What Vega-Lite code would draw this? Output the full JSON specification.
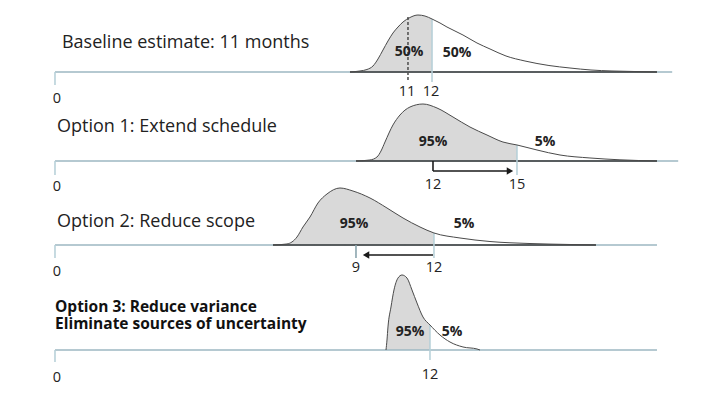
{
  "$schema": "https://vega.github.io/schema/vega-lite/v6.json",
  "padding": 0,
  "spacing": 0,
  "bounds": "flush",
  "background": "white",
  "config": {"view": {"stroke": null}, "concat": {"spacing": 0}},
  "datasets": {
    "curve": [
      {"p":1,"pos":9.389,"dens":0,"sh":1},{"p":1,"pos":9.707,"dens":0.018,"sh":1},{"p":1,"pos":9.930,"dens":0.044,"sh":1},{"p":1,"pos":10.121,"dens":0.105,"sh":1},{"p":1,"pos":10.280,"dens":0.228,"sh":1},{"p":1,"pos":10.439,"dens":0.386,"sh":1},{"p":1,"pos":10.598,"dens":0.544,"sh":1},{"p":1,"pos":10.757,"dens":0.684,"sh":1},{"p":1,"pos":10.917,"dens":0.789,"sh":1},{"p":1,"pos":11.076,"dens":0.877,"sh":1},{"p":1,"pos":11.298,"dens":0.956,"sh":1},{"p":1,"pos":11.553,"dens":1.0,"sh":1},{"p":1,"pos":11.776,"dens":0.982,"sh":1},{"p":1,"pos":12.0,"dens":0.930,"sh":1},{"p":1,"pos":12.253,"dens":0.860,"sh":0},{"p":1,"pos":12.476,"dens":0.789,"sh":0},{"p":1,"pos":12.731,"dens":0.719,"sh":0},{"p":1,"pos":12.985,"dens":0.649,"sh":0},{"p":1,"pos":13.431,"dens":0.509,"sh":0},{"p":1,"pos":13.845,"dens":0.404,"sh":0},{"p":1,"pos":14.354,"dens":0.281,"sh":0},{"p":1,"pos":14.959,"dens":0.193,"sh":0},{"p":1,"pos":15.722,"dens":0.114,"sh":0},{"p":1,"pos":16.391,"dens":0.070,"sh":0},{"p":1,"pos":17.059,"dens":0.035,"sh":0},{"p":1,"pos":17.728,"dens":0.018,"sh":0},{"p":1,"pos":18.428,"dens":0.009,"sh":0},{"p":1,"pos":19.160,"dens":0,"sh":0},
      {"p":2,"pos":9.580,"dens":0,"sh":1},{"p":2,"pos":10.025,"dens":0.018,"sh":1},{"p":2,"pos":10.248,"dens":0.070,"sh":1},{"p":2,"pos":10.376,"dens":0.175,"sh":1},{"p":2,"pos":10.503,"dens":0.333,"sh":1},{"p":2,"pos":10.757,"dens":0.632,"sh":1},{"p":2,"pos":10.980,"dens":0.807,"sh":1},{"p":2,"pos":11.298,"dens":0.947,"sh":1},{"p":2,"pos":11.712,"dens":1.0,"sh":1},{"p":2,"pos":12.158,"dens":0.930,"sh":1},{"p":2,"pos":12.667,"dens":0.772,"sh":1},{"p":2,"pos":13.208,"dens":0.596,"sh":1},{"p":2,"pos":13.749,"dens":0.456,"sh":1},{"p":2,"pos":14.258,"dens":0.333,"sh":1},{"p":2,"pos":14.704,"dens":0.281,"sh":1},{"p":2,"pos":15.341,"dens":0.193,"sh":0},{"p":2,"pos":16.073,"dens":0.105,"sh":0},{"p":2,"pos":17.027,"dens":0.053,"sh":0},{"p":2,"pos":17.982,"dens":0.021,"sh":0},{"p":2,"pos":19.160,"dens":0,"sh":0},
      {"p":3,"pos":6.938,"dens":0,"sh":1},{"p":3,"pos":7.384,"dens":0.018,"sh":1},{"p":3,"pos":7.702,"dens":0.140,"sh":1},{"p":3,"pos":7.893,"dens":0.316,"sh":1},{"p":3,"pos":8.116,"dens":0.491,"sh":1},{"p":3,"pos":8.370,"dens":0.737,"sh":1},{"p":3,"pos":8.657,"dens":0.895,"sh":1},{"p":3,"pos":9.071,"dens":1.0,"sh":1},{"p":3,"pos":9.484,"dens":0.947,"sh":1},{"p":3,"pos":10.025,"dens":0.825,"sh":1},{"p":3,"pos":10.567,"dens":0.649,"sh":1},{"p":3,"pos":11.076,"dens":0.474,"sh":1},{"p":3,"pos":11.617,"dens":0.316,"sh":1},{"p":3,"pos":12.062,"dens":0.211,"sh":1},{"p":3,"pos":12.890,"dens":0.123,"sh":0},{"p":3,"pos":13.845,"dens":0.061,"sh":0},{"p":3,"pos":15.118,"dens":0.026,"sh":0},{"p":3,"pos":16.391,"dens":0.009,"sh":0},{"p":3,"pos":17.218,"dens":0,"sh":0},
      {"p":4,"pos":10.535,"dens":0,"sh":1},{"p":4,"pos":10.567,"dens":0.175,"sh":1},{"p":4,"pos":10.598,"dens":0.404,"sh":1},{"p":4,"pos":10.694,"dens":0.754,"sh":1},{"p":4,"pos":10.789,"dens":1.053,"sh":1},{"p":4,"pos":10.917,"dens":1.263,"sh":1},{"p":4,"pos":11.044,"dens":1.316,"sh":1},{"p":4,"pos":11.203,"dens":1.263,"sh":1},{"p":4,"pos":11.362,"dens":1.053,"sh":1},{"p":4,"pos":11.521,"dens":0.825,"sh":1},{"p":4,"pos":11.712,"dens":0.579,"sh":1},{"p":4,"pos":11.935,"dens":0.439,"sh":1},{"p":4,"pos":12.253,"dens":0.263,"sh":0},{"p":4,"pos":12.572,"dens":0.140,"sh":0},{"p":4,"pos":12.985,"dens":0.053,"sh":0},{"p":4,"pos":13.431,"dens":0.018,"sh":0},{"p":4,"pos":13.527,"dens":0,"sh":0}
    ],
    "segs": [
      {"p":1,"pos":0,"dens":0,"pos2":19.644,"dens2":0,"k":"axis"},
      {"p":1,"pos":9.389,"dens":0,"pos2":19.160,"dens2":0,"k":"base"},
      {"p":1,"pos":0,"dens":0,"pos2":0,"dens2":-0.228,"k":"tick"},
      {"p":1,"pos":11.235,"dens":0.965,"pos2":11.235,"dens2":-0.175,"k":"dash"},
      {"p":1,"pos":12.0,"dens":0.930,"pos2":12.0,"dens2":-0.175,"k":"tick"},
      {"p":2,"pos":0,"dens":0,"pos2":19.835,"dens2":0,"k":"axis"},
      {"p":2,"pos":9.580,"dens":0,"pos2":19.160,"dens2":0,"k":"base"},
      {"p":2,"pos":0,"dens":0,"pos2":0,"dens2":-0.246,"k":"tick"},
      {"p":2,"pos":12.031,"dens":-0.175,"pos2":14.45,"dens2":-0.175,"k":"arrow"},
      {"p":2,"pos":12.031,"dens":0,"pos2":12.031,"dens2":-0.175,"k":"arrow"},
      {"p":2,"pos":14.704,"dens":0.281,"pos2":14.704,"dens2":-0.246,"k":"tick"},
      {"p":3,"pos":0,"dens":0,"pos2":19.16,"dens2":0,"k":"axis"},
      {"p":3,"pos":6.938,"dens":0,"pos2":17.218,"dens2":0,"k":"base"},
      {"p":3,"pos":0,"dens":0,"pos2":0,"dens2":-0.228,"k":"tick"},
      {"p":3,"pos":12.031,"dens":-0.175,"pos2":9.95,"dens2":-0.175,"k":"arrow"},
      {"p":3,"pos":9.580,"dens":0,"pos2":9.580,"dens2":-0.228,"k":"grey"},
      {"p":3,"pos":12.062,"dens":0.211,"pos2":12.062,"dens2":-0.228,"k":"tick"},
      {"p":4,"pos":0,"dens":0,"pos2":19.16,"dens2":0,"k":"axis"},
      {"p":4,"pos":0,"dens":0,"pos2":0,"dens2":-0.211,"k":"tick"},
      {"p":4,"pos":11.935,"dens":0.439,"pos2":11.935,"dens2":-0.175,"k":"tick"}
    ],
    "heads": [
      {"p":2,"pos":14.48,"dens":-0.175,"dir":"right"},
      {"p":3,"pos":9.90,"dens":-0.175,"dir":"left"}
    ],
    "labels": [
      {"p":1,"pos":0.223,"dens":0.51,"t":"Baseline estimate: 11 months","k":"title"},
      {"p":2,"pos":0.064,"dens":0.596,"t":"Option 1: Extend schedule","k":"title"},
      {"p":3,"pos":0.064,"dens":0.404,"t":"Option 2: Reduce scope","k":"title"},
      {"p":4,"pos":0.0,"dens":0.754,"t":"Option 3: Reduce variance\nEliminate sources of uncertainty","k":"btitle"},
      {"p":1,"pos":0.064,"dens":-0.474,"t":"0","k":"num"},
      {"p":1,"pos":11.203,"dens":-0.351,"t":"11","k":"num"},
      {"p":1,"pos":11.967,"dens":-0.351,"t":"12","k":"num"},
      {"p":2,"pos":0.064,"dens":-0.456,"t":"0","k":"num"},
      {"p":2,"pos":12.031,"dens":-0.421,"t":"12","k":"num"},
      {"p":2,"pos":14.704,"dens":-0.421,"t":"15","k":"num"},
      {"p":3,"pos":0.064,"dens":-0.474,"t":"0","k":"num"},
      {"p":3,"pos":9.580,"dens":-0.404,"t":"9","k":"num"},
      {"p":3,"pos":12.062,"dens":-0.404,"t":"12","k":"num"},
      {"p":4,"pos":0.064,"dens":-0.491,"t":"0","k":"num"},
      {"p":4,"pos":11.935,"dens":-0.439,"t":"12","k":"num"},
      {"p":1,"pos":11.267,"dens":0.351,"t":"50%","k":"pct"},
      {"p":1,"pos":12.794,"dens":0.333,"t":"50%","k":"pct"},
      {"p":2,"pos":12.031,"dens":0.333,"t":"95%","k":"pct"},
      {"p":2,"pos":15.595,"dens":0.333,"t":"5%","k":"pct"},
      {"p":3,"pos":9.516,"dens":0.368,"t":"95%","k":"pct"},
      {"p":3,"pos":13.017,"dens":0.368,"t":"5%","k":"pct"},
      {"p":4,"pos":11.298,"dens":0.316,"t":"95%","k":"pct"},
      {"p":4,"pos":12.635,"dens":0.316,"t":"5%","k":"pct"}
    ]
  },
  "vconcat": [
    {
      "width": 706, "height": 100,
      "encoding": {
        "x": {"field":"pos","type":"quantitative","scale":{"domain":[-1.75,20.72],"nice":false,"zero":false},"axis":null},
        "y": {"field":"dens","type":"quantitative","scale":{"domain":[-0.4912,1.2632],"nice":false,"zero":false},"axis":null}
      },
      "layer": [
        {"data":{"name":"curve"},"transform":[{"filter":"datum.p==1 && datum.sh==1"}],"mark":{"type":"area","color":"#d9d9d9","interpolate":"monotone"},"encoding":{"y2":{"datum":0}}},
        {"data":{"name":"segs"},"transform":[{"filter":"datum.p==1"}],"mark":{"type":"rule"},"encoding":{"x2":{"field":"pos2"},"y2":{"field":"dens2"},
          "color":{"field":"k","type":"nominal","scale":{"domain":["axis","base","tick","arrow","grey","dash"],"range":["#9db8c2","#3a3a3a","#b6d0d8","#1a1a1a","#8aa4ad","#555555"]},"legend":null},
          "strokeWidth":{"field":"k","type":"nominal","scale":{"domain":["axis","base","tick","arrow","grey","dash"],"range":[1.5,1.6,1.2,1.5,1.2,1]},"legend":null},
          "strokeDash":{"field":"k","type":"nominal","scale":{"domain":["axis","base","tick","arrow","grey","dash"],"range":[[1,0],[1,0],[1,0],[1,0],[1,0],[3,2]]},"legend":null}}},
        {"data":{"name":"curve"},"transform":[{"filter":"datum.p==1"}],"mark":{"type":"line","color":"#4a4a4a","strokeWidth":1,"interpolate":"monotone"}},
        {"data":{"name":"labels"},"transform":[{"filter":"datum.p==1 && datum.k=='title'"}],"mark":{"type":"text","align":"left","baseline":"middle","font":"Open Sans","fontSize":18,"color":"#222222"},"encoding":{"text":{"field":"t"}}},
        {"data":{"name":"labels"},"transform":[{"filter":"datum.p==1 && datum.k=='num'"}],"mark":{"type":"text","align":"center","baseline":"middle","font":"Open Sans","fontSize":14.5,"color":"#222222"},"encoding":{"text":{"field":"t"}}},
        {"data":{"name":"labels"},"transform":[{"filter":"datum.p==1 && datum.k=='pct'"}],"mark":{"type":"text","align":"center","baseline":"middle","font":"Open Sans","fontSize":14,"fontWeight":"bold","color":"#222222"},"encoding":{"text":{"field":"t"}}}
      ]
    },
    {
      "width": 706, "height": 85,
      "encoding": {
        "x": {"field":"pos","type":"quantitative","scale":{"domain":[-1.75,20.72],"nice":false,"zero":false},"axis":null},
        "y": {"field":"dens","type":"quantitative","scale":{"domain":[-0.4211,1.0702],"nice":false,"zero":false},"axis":null}
      },
      "layer": [
        {"data":{"name":"curve"},"transform":[{"filter":"datum.p==2 && datum.sh==1"}],"mark":{"type":"area","color":"#d9d9d9","interpolate":"monotone"},"encoding":{"y2":{"datum":0}}},
        {"data":{"name":"segs"},"transform":[{"filter":"datum.p==2"}],"mark":{"type":"rule"},"encoding":{"x2":{"field":"pos2"},"y2":{"field":"dens2"},
          "color":{"field":"k","type":"nominal","scale":{"domain":["axis","base","tick","arrow","grey","dash"],"range":["#9db8c2","#3a3a3a","#b6d0d8","#1a1a1a","#8aa4ad","#555555"]},"legend":null},
          "strokeWidth":{"field":"k","type":"nominal","scale":{"domain":["axis","base","tick","arrow","grey","dash"],"range":[1.5,1.6,1.2,1.5,1.2,1]},"legend":null},
          "strokeDash":{"field":"k","type":"nominal","scale":{"domain":["axis","base","tick","arrow","grey","dash"],"range":[[1,0],[1,0],[1,0],[1,0],[1,0],[3,2]]},"legend":null}}},
        {"data":{"name":"curve"},"transform":[{"filter":"datum.p==2"}],"mark":{"type":"line","color":"#4a4a4a","strokeWidth":1,"interpolate":"monotone"}},
        {"data":{"name":"heads"},"transform":[{"filter":"datum.p==2"}],"mark":{"type":"point","filled":true,"color":"#1a1a1a","size":55,"opacity":1},"encoding":{"shape":{"field":"dir","type":"nominal","scale":{"domain":["right","left"],"range":["triangle-right","triangle-left"]},"legend":null}}},
        {"data":{"name":"labels"},"transform":[{"filter":"datum.p==2 && datum.k=='title'"}],"mark":{"type":"text","align":"left","baseline":"middle","font":"Open Sans","fontSize":18,"color":"#222222"},"encoding":{"text":{"field":"t"}}},
        {"data":{"name":"labels"},"transform":[{"filter":"datum.p==2 && datum.k=='num'"}],"mark":{"type":"text","align":"center","baseline":"middle","font":"Open Sans","fontSize":14.5,"color":"#222222"},"encoding":{"text":{"field":"t"}}},
        {"data":{"name":"labels"},"transform":[{"filter":"datum.p==2 && datum.k=='pct'"}],"mark":{"type":"text","align":"center","baseline":"middle","font":"Open Sans","fontSize":14,"fontWeight":"bold","color":"#222222"},"encoding":{"text":{"field":"t"}}}
      ]
    },
    {
      "width": 706, "height": 85,
      "encoding": {
        "x": {"field":"pos","type":"quantitative","scale":{"domain":[-1.75,20.72],"nice":false,"zero":false},"axis":null},
        "y": {"field":"dens","type":"quantitative","scale":{"domain":[-0.4386,1.0526],"nice":false,"zero":false},"axis":null}
      },
      "layer": [
        {"data":{"name":"curve"},"transform":[{"filter":"datum.p==3 && datum.sh==1"}],"mark":{"type":"area","color":"#d9d9d9","interpolate":"monotone"},"encoding":{"y2":{"datum":0}}},
        {"data":{"name":"segs"},"transform":[{"filter":"datum.p==3"}],"mark":{"type":"rule"},"encoding":{"x2":{"field":"pos2"},"y2":{"field":"dens2"},
          "color":{"field":"k","type":"nominal","scale":{"domain":["axis","base","tick","arrow","grey","dash"],"range":["#9db8c2","#3a3a3a","#b6d0d8","#1a1a1a","#8aa4ad","#555555"]},"legend":null},
          "strokeWidth":{"field":"k","type":"nominal","scale":{"domain":["axis","base","tick","arrow","grey","dash"],"range":[1.5,1.6,1.2,1.5,1.2,1]},"legend":null},
          "strokeDash":{"field":"k","type":"nominal","scale":{"domain":["axis","base","tick","arrow","grey","dash"],"range":[[1,0],[1,0],[1,0],[1,0],[1,0],[3,2]]},"legend":null}}},
        {"data":{"name":"curve"},"transform":[{"filter":"datum.p==3"}],"mark":{"type":"line","color":"#4a4a4a","strokeWidth":1,"interpolate":"monotone"}},
        {"data":{"name":"heads"},"transform":[{"filter":"datum.p==3"}],"mark":{"type":"point","filled":true,"color":"#1a1a1a","size":55,"opacity":1},"encoding":{"shape":{"field":"dir","type":"nominal","scale":{"domain":["right","left"],"range":["triangle-right","triangle-left"]},"legend":null}}},
        {"data":{"name":"labels"},"transform":[{"filter":"datum.p==3 && datum.k=='title'"}],"mark":{"type":"text","align":"left","baseline":"middle","font":"Open Sans","fontSize":18,"color":"#222222"},"encoding":{"text":{"field":"t"}}},
        {"data":{"name":"labels"},"transform":[{"filter":"datum.p==3 && datum.k=='num'"}],"mark":{"type":"text","align":"center","baseline":"middle","font":"Open Sans","fontSize":14.5,"color":"#222222"},"encoding":{"text":{"field":"t"}}},
        {"data":{"name":"labels"},"transform":[{"filter":"datum.p==3 && datum.k=='pct'"}],"mark":{"type":"text","align":"center","baseline":"middle","font":"Open Sans","fontSize":14,"fontWeight":"bold","color":"#222222"},"encoding":{"text":{"field":"t"}}}
      ]
    },
    {
      "width": 706, "height": 128,
      "encoding": {
        "x": {"field":"pos","type":"quantitative","scale":{"domain":[-1.75,20.72],"nice":false,"zero":false},"axis":null},
        "y": {"field":"dens","type":"quantitative","scale":{"domain":[-0.8421,1.4035],"nice":false,"zero":false},"axis":null}
      },
      "layer": [
        {"data":{"name":"curve"},"transform":[{"filter":"datum.p==4 && datum.sh==1"}],"mark":{"type":"area","color":"#d9d9d9","interpolate":"monotone"},"encoding":{"y2":{"datum":0}}},
        {"data":{"name":"segs"},"transform":[{"filter":"datum.p==4"}],"mark":{"type":"rule"},"encoding":{"x2":{"field":"pos2"},"y2":{"field":"dens2"},
          "color":{"field":"k","type":"nominal","scale":{"domain":["axis","base","tick","arrow","grey","dash"],"range":["#9db8c2","#3a3a3a","#b6d0d8","#1a1a1a","#8aa4ad","#555555"]},"legend":null},
          "strokeWidth":{"field":"k","type":"nominal","scale":{"domain":["axis","base","tick","arrow","grey","dash"],"range":[1.5,1.6,1.2,1.5,1.2,1]},"legend":null},
          "strokeDash":{"field":"k","type":"nominal","scale":{"domain":["axis","base","tick","arrow","grey","dash"],"range":[[1,0],[1,0],[1,0],[1,0],[1,0],[3,2]]},"legend":null}}},
        {"data":{"name":"curve"},"transform":[{"filter":"datum.p==4"}],"mark":{"type":"line","color":"#4a4a4a","strokeWidth":1,"interpolate":"monotone"}},
        {"data":{"name":"labels"},"transform":[{"filter":"datum.p==4 && datum.k=='btitle'"}],"mark":{"type":"text","align":"left","baseline":"middle","font":"Open Sans","fontSize":15.5,"fontWeight":"bold","color":"#111111","lineBreak":"\n","lineHeight":17},"encoding":{"text":{"field":"t"}}},
        {"data":{"name":"labels"},"transform":[{"filter":"datum.p==4 && datum.k=='num'"}],"mark":{"type":"text","align":"center","baseline":"middle","font":"Open Sans","fontSize":14.5,"color":"#222222"},"encoding":{"text":{"field":"t"}}},
        {"data":{"name":"labels"},"transform":[{"filter":"datum.p==4 && datum.k=='pct'"}],"mark":{"type":"text","align":"center","baseline":"middle","font":"Open Sans","fontSize":14,"fontWeight":"bold","color":"#222222"},"encoding":{"text":{"field":"t"}}}
      ]
    }
  ]
}
